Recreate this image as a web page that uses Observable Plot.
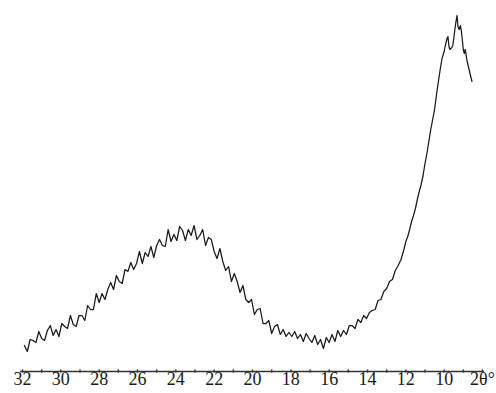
<!DOCTYPE html>
<html>
<head>
<meta charset="utf-8">
<script src="https://cdn.jsdelivr.net/npm/d3@7"></script>
<script src="https://cdn.jsdelivr.net/npm/@observablehq/plot@0.6"></script>
<style>
  html, body { margin: 0; padding: 0; background: #fff; }
  svg { overflow: visible; }
  svg text { font-family: "Liberation Serif", serif !important; }
</style>
</head>
<body>
<div id="chart"></div>
<script>
const twoTheta = [
  31.9,31.75,31.6,31.45,31.3,31.15,31.0,30.85,30.7,30.55,30.4,30.25,30.1,29.95,29.8,29.65,29.5,29.35,29.2,29.05,
  28.9,28.75,28.6,28.45,28.3,28.15,28.0,27.85,27.7,27.55,27.4,27.25,27.1,26.95,26.8,26.65,26.5,26.35,26.2,26.05,
  25.9,25.75,25.6,25.45,25.3,25.15,25.0,24.85,24.7,24.55,24.4,24.25,24.1,23.95,23.8,23.65,23.5,23.35,23.2,23.05,
  22.9,22.75,22.6,22.45,22.3,22.15,22.0,21.85,21.7,21.55,21.4,21.25,21.1,20.95,20.8,20.65,20.5,20.35,20.2,20.05,
  19.9,19.75,19.6,19.45,19.3,19.15,19.0,18.85,18.7,18.55,18.4,18.25,18.1,17.95,17.8,17.65,17.5,17.35,17.2,17.05,
  16.9,16.75,16.6,16.45,16.3,16.15,16.0,15.85,15.7,15.55,15.4,15.25,15.1,14.95,14.8,14.65,14.5,14.35,14.2,14.05,
  13.9,13.75,13.6,13.45,13.3,13.15,13.0,12.85,12.7,12.55,12.4,12.25,12.1,12.0,11.9,11.8,11.7,11.6,11.5,11.4,
  11.3,11.2,11.1,11.0,10.9,10.8,10.7,10.6,10.5,10.4,10.3,10.2,10.1,10.0,9.95,9.85,9.8,9.75,9.7,9.6,
  9.55,9.5,9.4,9.33,9.28,9.22,9.15,9.1,9.0,8.95,8.9,8.8,8.7,8.6,8.55
];
const intensity = [
  26,20,32,31,29,40,33,31,41,46,36,42,35,48,45,43,56,47,45,56,
  56,51,66,62,62,78,69,78,72,82,89,82,96,90,88,102,100,109,102,108,
  120,108,119,115,125,114,126,132,126,125,142,130,137,131,145,141,131,142,136,146,
  132,136,142,126,134,132,120,113,123,110,101,105,90,98,90,79,86,72,69,72,
  57,62,63,48,48,51,38,45,47,37,42,35,39,35,40,33,37,30,38,33,
  29,36,27,32,23,34,29,37,30,41,35,41,37,46,46,43,52,49,56,53,
  59,61,62,71,72,80,83,90,92,101,106,112,122,130,135,142,150,156,163,172,
  180,187,196,208,218,230,242,252,262,277,290,303,314,320,325,333,335,325,322,324,
  326,333,348,356,345,342,346,340,322,318,322,310,302,294,290
];
const labelTicks = [32,30,28,26,24,22,20,18,16,14,12,10,8];
const minorTicks = d3.range(8, 33, 1);
const axisTitle = "2θ°";

const data = twoTheta.map((t, i) => ({t, v: intensity[i]}));
const font = "Liberation Serif";

const chart = Plot.plot({
  width: 496,
  height: 393,
  marginLeft: 22,
  marginRight: 14,
  marginTop: 12,
  marginBottom: 22,
  style: {background: "#fff", fontFamily: font, color: "#222"},
  x: {domain: [32, 8], axis: null},
  y: {domain: [0, 359], axis: null},
  marks: [
    Plot.ruleY([0], {x1: 32.1, x2: 7.9, stroke: "#333", strokeWidth: 1.3}),
    Plot.ruleX(minorTicks, {x: d => d, y1: -1.6, y2: 1.6, stroke: "#333", strokeWidth: 1.4}),
    Plot.text(labelTicks, {
      x: d => d,
      y: 0,
      text: d => d === 8 ? axisTitle : String(d),
      lineAnchor: "top",
      dy: 1,
      fontSize: 18,
      fontFamily: font,
      fill: "#1a1a1a"
    }),
    Plot.line(data, {x: "t", y: "v", stroke: "#1a1a1a", strokeWidth: 1.25, curve: "linear"})
  ]
});
document.getElementById("chart").append(chart);
</script>
</body>
</html>
